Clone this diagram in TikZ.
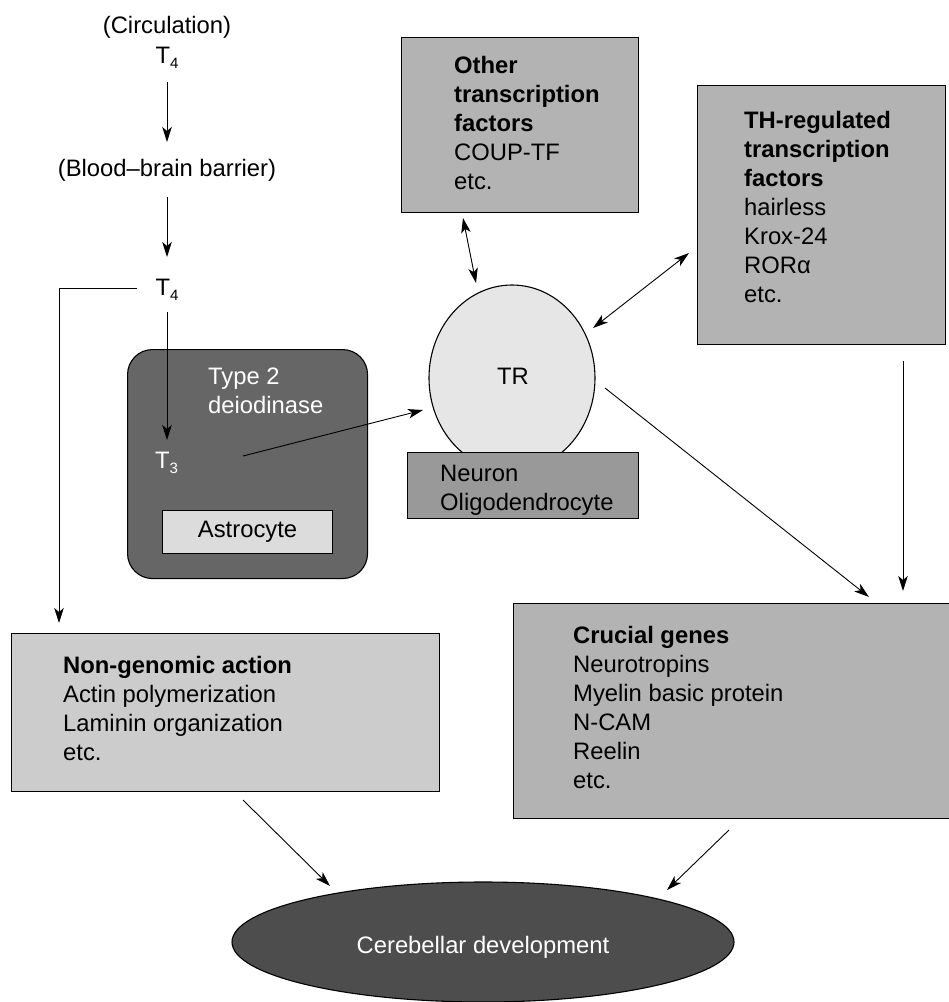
\documentclass[tikz,border=0pt]{standalone}
\usepackage{fontspec}
\setmainfont{Liberation Sans}
\usetikzlibrary{arrows.meta,shapes.geometric}
\definecolor{cdark}{HTML}{666666}
\definecolor{cell}{HTML}{4D4D4D}
\definecolor{cmid}{HTML}{B3B3B3}
\definecolor{clight}{HTML}{CCCCCC}
\definecolor{cneu}{HTML}{999999}
\definecolor{castro}{HTML}{DCDCDC}
\definecolor{ctr}{HTML}{E6E6E6}
\newcommand{\subn}[1]{{\fontsize{15}{15}\selectfont\raisebox{-5pt}{#1}}}
\begin{document}
\begin{tikzpicture}[x=1pt,y=-1pt,
  font=\fontsize{23.8}{29}\selectfont,
  box/.style={draw=black, line width=1.1pt, rectangle, inner sep=0pt, anchor=north west},
  txt/.style={inner sep=0pt, anchor=north west, align=left},
  lbl/.style={inner sep=0pt, anchor=base},
  tip/.tip={Stealth[length=15pt,width=9.5pt,inset=4pt]},
  arr/.style={-tip, line width=0.9pt},
  darr/.style={tip-tip, line width=0.9pt}]
\useasboundingbox (0,0) rectangle (949,1002);

% boxes
\node[box, fill=cmid, minimum width=237pt, minimum height=175pt] (other) at (401,37) {};
\node[box, fill=cmid, minimum width=248pt, minimum height=259pt] (th) at (697,85) {};
\node[box, fill=cdark, rounded corners=25pt, minimum width=240pt, minimum height=229pt] (astrobox) at (127,349) {};
\node[box, fill=castro, minimum width=170pt, minimum height=43pt] (astro) at (162,510) {};
\node[draw=black, line width=1.1pt, fill=ctr, ellipse, minimum width=166pt, minimum height=186pt, inner sep=0pt] (trell) at (512,378) {};
\node[box, fill=cneu, minimum width=231pt, minimum height=66pt] (neuron) at (407,452) {};
\node[box, fill=cmid, minimum width=445pt, minimum height=215pt] (crucial) at (513,603) {};
\node[box, fill=clight, minimum width=428pt, minimum height=158pt] (nongen) at (11,633) {};
\node[draw=black, line width=1.1pt, fill=cell, ellipse, minimum width=502pt, minimum height=120pt, inner sep=0pt] (cereb) at (483,942) {};

% texts
\node[lbl] (circ) at (167,33) {(Circulation)};
\node[lbl] (t4a) at (167,63) {T\subn{4}};
\node[lbl] (bbb) at (167,176) {(Blood--brain barrier)};
\node[lbl] (t4b) at (167,295) {T\subn{4}};
\node[txt, text=white] (type2) at (208,368) {Type 2\\deiodinase};
\node[inner sep=0pt, anchor=base west, text=white] (t3) at (155,468) {T\subn{3}};
\node[inner sep=0pt] (astrotxt) at (astro.center) {Astrocyte};
\node[lbl] (tr) at (513,384) {TR};
\node[txt] (neutxt) at (440,465) {Neuron\\Oligodendrocyte};
\node[txt] (othertxt) at (454,56) {\bfseries Other\\\bfseries transcription\\\bfseries factors\\COUP-TF\\etc.};
\node[txt] (thtxt) at (744,110.8) {\bfseries TH-regulated\\\bfseries transcription\\\bfseries factors\\hairless\\Krox-24\\RORα\\etc.};
\node[txt] (cructxt) at (573,626.5) {\bfseries Crucial genes\\Neurotropins\\Myelin basic protein\\N-CAM\\Reelin\\etc.};
\node[txt] (nontxt) at (63,656.5) {\bfseries Non-genomic action\\Actin polymerization\\Laminin organization\\etc.};
\node[lbl, text=white] (cerebtxt) at (483,953) {Cerebellar development};

% connector end points
\coordinate (a1s) at (167,82);  \coordinate (a1e) at (167,142);
\coordinate (a2s) at (167,197); \coordinate (a2e) at (167,257);
\coordinate (a3s) at (167,312); \coordinate (a3e) at (167,440);
\coordinate (a4s) at (137,288); \coordinate (a4e) at (59,623);
\coordinate (a5s) at (243,456); \coordinate (a5e) at (423,410);
\coordinate (a6s) at (463,218); \coordinate (a6e) at (476,283);
\coordinate (a7s) at (593,328); \coordinate (a7e) at (689,253);
\coordinate (a8s) at (605,388); \coordinate (a8e) at (869,597);
\coordinate (a9s) at (903,361); \coordinate (a9e) at (903,591);
\coordinate (a10s) at (243,800); \coordinate (a10e) at (330,886);
\coordinate (a11s) at (729,830); \coordinate (a11e) at (667,890);

\draw[arr] (a1s) -- (a1e);
\draw[arr] (a2s) -- (a2e);
\draw[arr] (a3s) -- (a3e);
\draw[arr] (a4s) -| (a4e);
\draw[arr] (a5s) -- (a5e);
\draw[darr] (a6s) -- (a6e);
\draw[darr] (a7s) -- (a7e);
\draw[arr] (a8s) -- (a8e);
\draw[arr] (a9s) -- (a9e);
\draw[arr] (a10s) -- (a10e);
\draw[arr] (a11s) -- (a11e);
\end{tikzpicture}
\end{document}
